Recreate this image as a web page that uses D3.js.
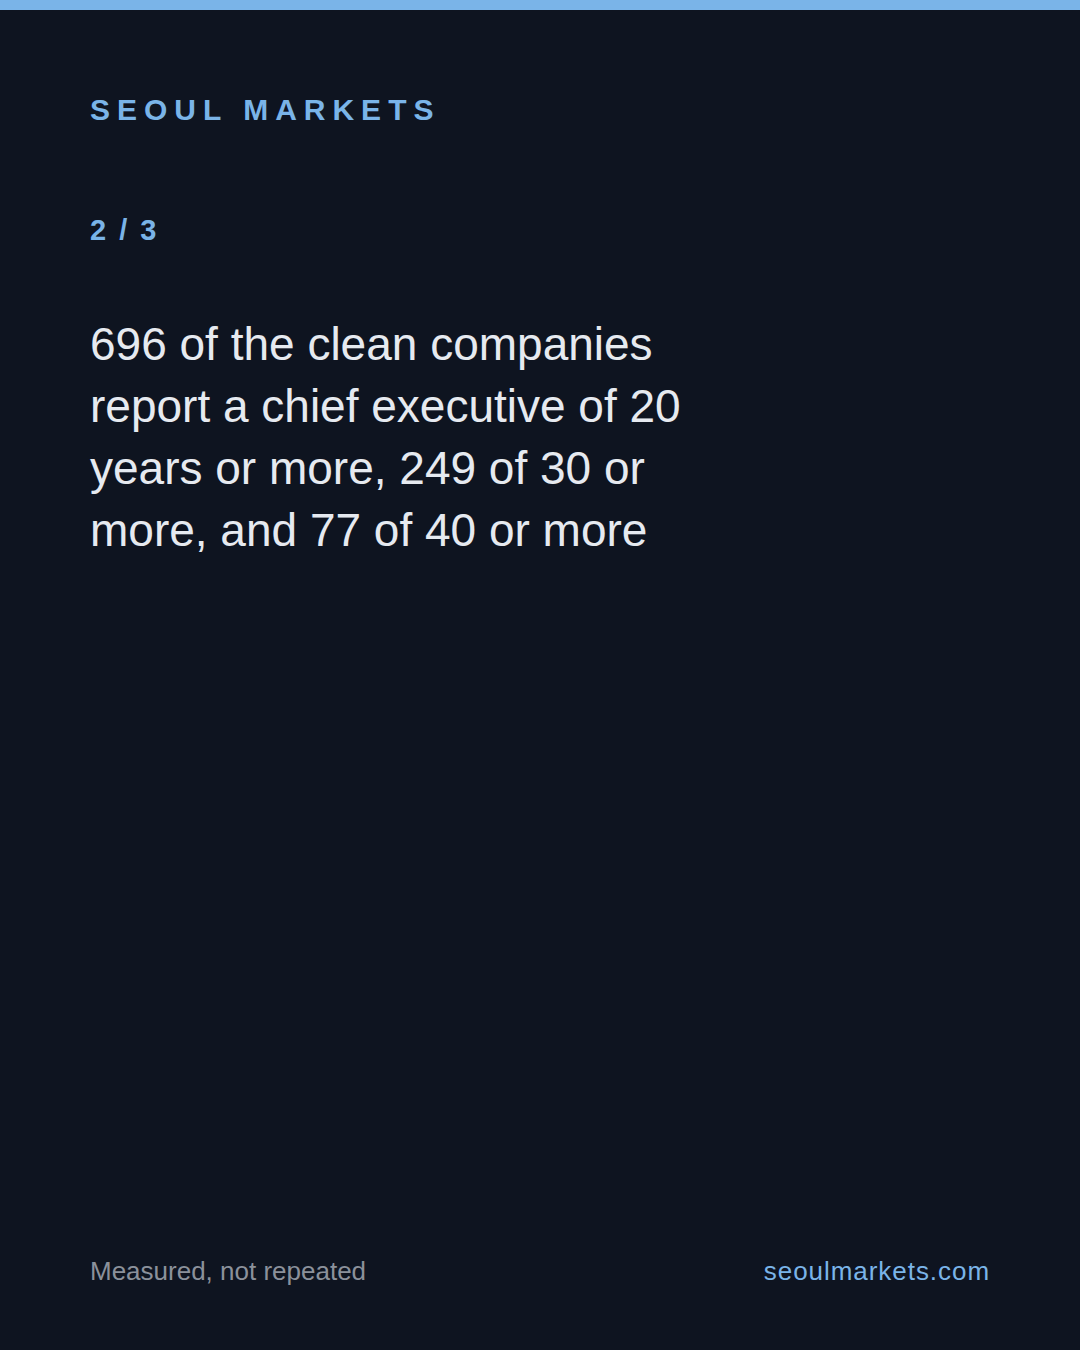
<!DOCTYPE html>
<html>
<head>
<meta charset="utf-8">
<script src="https://cdn.jsdelivr.net/npm/d3@7"></script>
<style>
  html, body { margin: 0; padding: 0; background: #0e1420; }
  svg { display: block; }
</style>
</head>
<body>
<script>
const brand = "SEOUL MARKETS";
const pageLabel = "2 / 3";
const statementLines = [
  "696 of the clean companies",
  "report a chief executive of 20",
  "years or more, 249 of 30 or",
  "more, and 77 of 40 or more"
];
const footerLeft = "Measured, not repeated";
const footerRight = "seoulmarkets.com";

const W = 1080, H = 1350;
const font = "'Liberation Sans', Arial, Helvetica, sans-serif";

const svg = d3.select("body").append("svg")
  .attr("width", W).attr("height", H)
  .attr("viewBox", `0 0 ${W} ${H}`);

svg.append("rect").attr("width", W).attr("height", H).attr("fill", "#0e1420");
svg.append("rect").attr("width", W).attr("height", 10).attr("fill", "#7ab4e8");

svg.append("text")
  .attr("x", 90).attr("y", 120)
  .attr("font-family", font).attr("font-size", 30).attr("font-weight", 700)
  .attr("letter-spacing", 7)
  .attr("fill", "#7ab4e8")
  .text(brand);

svg.append("text")
  .attr("x", 90).attr("y", 240)
  .attr("font-family", font).attr("font-size", 29).attr("font-weight", 700)
  .attr("letter-spacing", 2.5)
  .attr("fill", "#7ab4e8")
  .text(pageLabel);

const y = d3.scalePoint().domain(d3.range(statementLines.length)).range([360, 360 + 62 * (statementLines.length - 1)]);

svg.append("g").selectAll("text")
  .data(statementLines)
  .join("text")
  .attr("x", 90)
  .attr("y", (d, i) => y(i))
  .attr("font-family", font).attr("font-size", 46)
  .attr("fill", "#e6eaf0")
  .text(d => d);

svg.append("text")
  .attr("x", 90).attr("y", 1280)
  .attr("font-family", font).attr("font-size", 26)
  .attr("fill", "#8b919b")
  .text(footerLeft);

svg.append("text")
  .attr("x", 990).attr("y", 1280)
  .attr("text-anchor", "end")
  .attr("font-family", font).attr("font-size", 26)
  .attr("letter-spacing", 0.95)
  .attr("fill", "#7ab4e8")
  .text(footerRight);
</script>
</body>
</html>
